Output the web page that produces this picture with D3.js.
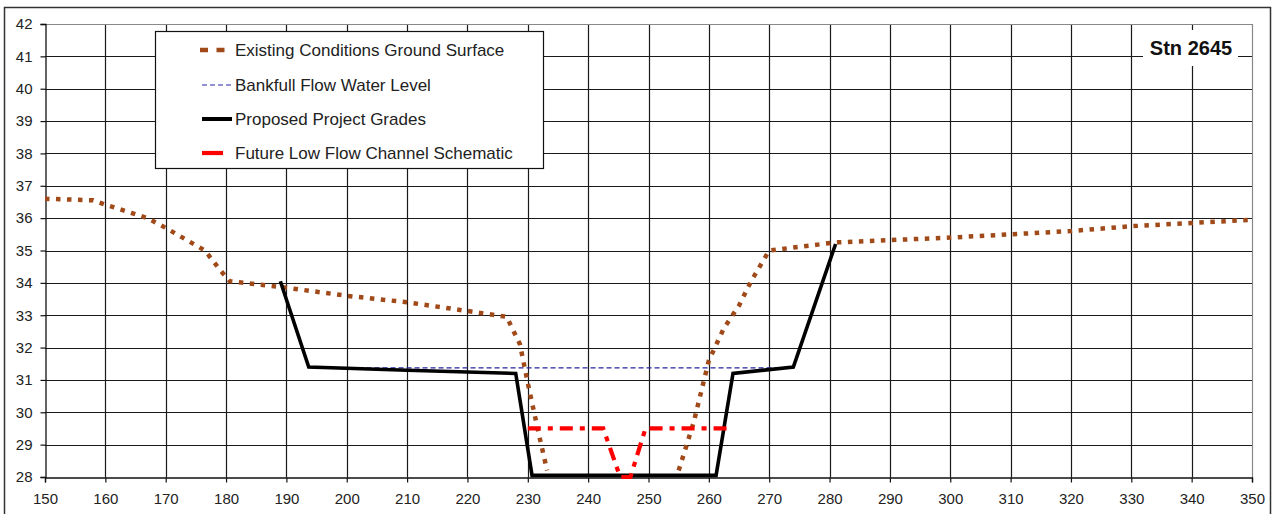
<!DOCTYPE html>
<html>
<head>
<meta charset="utf-8">
<script src="https://cdn.jsdelivr.net/npm/d3@7/dist/d3.min.js"></script>
<style>
  html, body { margin: 0; padding: 0; background: #fff; }
  svg { display: block; font-family: "Liberation Sans", Arial, sans-serif; }
</style>
</head>
<body>
<svg id="chart" width="1275" height="514"></svg>
<script>
// ---- Data ----
const xTickValues = [150,160,170,180,190,200,210,220,230,240,250,260,270,280,290,300,310,320,330,340,350];
const yTickValues = [28,29,30,31,32,33,34,35,36,37,38,39,40,41,42];

const existingX = [150,158,160,167,170,176.5,179,180.6,190,200,210,220,226.5,228.7,230,231.8,233.2,
                   null,
                   255,257.5,260,262.5,265,267,270,281,290,300,310,320,330,340,350];
const existingY = [36.6,36.55,36.42,36.0,35.7,35.0,34.4,34.05,33.85,33.6,33.4,33.13,32.95,32.1,30.9,29.35,28.2,
                   null,
                   28.2,29.7,31.6,32.6,33.3,34.05,35.0,35.25,35.32,35.4,35.5,35.6,35.75,35.85,35.95];

const bankfullX = [194,274];
const bankfullY = [31.37,31.37];

const proposedX = [189,193.7,210,228,230.7,261.2,264,274,281];
const proposedY = [34.05,31.4,31.3,31.2,28.05,28.05,31.2,31.4,35.2];

const lowFlowX = [230,242.5,245.3,247,249.5,263];
const lowFlowY = [29.5,29.5,28.0,28.0,29.5,29.5];

const legendLabels = ["Existing Conditions Ground Surface","Bankfull Flow Water Level","Proposed Project Grades","Future Low Flow Channel Schematic"];
const stationLabel = "Stn 2645";

// ---- Layout ----
const svg = d3.select("#chart");
const L = 45, R = 1252, T = 24, B = 477;

const x = d3.scaleLinear().domain([150, 350]).range([L, R]);
const y = d3.scaleLinear().domain([28, 42]).range([B, T]);

// outer border
svg.append("rect").attr("x", 4.5).attr("y", 7.5).attr("width", 1266).attr("height", 520)
  .attr("fill", "none").attr("stroke", "#333").attr("stroke-width", 1.5);

// grid
const grid = svg.append("g");
grid.selectAll("line.v").data(xTickValues.slice(1, -1)).enter().append("line")
  .attr("x1", d => Math.round(x(d)) + 0.5).attr("x2", d => Math.round(x(d)) + 0.5)
  .attr("y1", T).attr("y2", B).attr("stroke", "#1a1a1a").attr("stroke-width", 1.2);
grid.selectAll("line.h").data(yTickValues.slice(1, -1)).enter().append("line")
  .attr("y1", d => Math.round(y(d)) + 0.5).attr("y2", d => Math.round(y(d)) + 0.5)
  .attr("x1", L).attr("x2", R).attr("stroke", "#1a1a1a").attr("stroke-width", 1.2);

// plot border (top/right gray)
svg.append("line").attr("x1", L).attr("x2", R).attr("y1", T + 0.5).attr("y2", T + 0.5).attr("stroke", "#888").attr("stroke-width", 1.2);
svg.append("line").attr("x1", R + 0.5).attr("x2", R + 0.5).attr("y1", T).attr("y2", B).attr("stroke", "#888").attr("stroke-width", 1.2);

// axes
const xAxis = d3.axisBottom(x).tickValues(xTickValues).tickSize(5).tickPadding(7).tickFormat(d3.format("d"));
const yAxis = d3.axisLeft(y).tickValues(yTickValues).tickSize(5).tickPadding(8).tickFormat(d3.format("d"));

const gx = svg.append("g").attr("transform", `translate(0,${B + 0.5})`).call(xAxis);
const gy = svg.append("g").attr("transform", `translate(${L + 0.5},0)`).call(yAxis);
[gx, gy].forEach(g => {
  g.select(".domain").attr("stroke", "#111").attr("stroke-width", 1.3);
  g.selectAll(".tick line").attr("stroke", "#111").attr("stroke-width", 1.2);
  g.selectAll(".tick text").attr("fill", "#222").style("font-size", "15px")
    .style("font-family", "'Liberation Sans', Arial, sans-serif");
});
gx.selectAll(".tick text").attr("dy", "0.95em");

// clip
svg.append("clipPath").attr("id", "plotClip").append("rect")
  .attr("x", L).attr("y", T).attr("width", R - L).attr("height", B - T + 3);

const plot = svg.append("g").attr("clip-path", "url(#plotClip)");

function series(xs, ys) {
  return xs.map((v, i) => ({ x: v, y: ys[i] }));
}
const line = d3.line().defined(d => d.x !== null && d.y !== null).x(d => x(d.x)).y(d => y(d.y));

const BROWN = "#A04A1A", BLUE = "#2626A8", RED = "#FF0000";

plot.append("path").datum(series(existingX, existingY)).attr("d", line)
  .attr("fill", "none").attr("stroke", BROWN).attr("stroke-width", 4.5)
  .attr("stroke-dasharray", "4.5,6.5");

plot.append("path").datum(series(bankfullX, bankfullY)).attr("d", line)
  .attr("fill", "none").attr("stroke", BLUE).attr("stroke-width", 1.2)
  .attr("stroke-dasharray", "5,3");

plot.append("path").datum(series(proposedX, proposedY)).attr("d", line)
  .attr("fill", "none").attr("stroke", "#000").attr("stroke-width", 3.6)
  .attr("stroke-linejoin", "miter");

plot.append("path").datum(series(lowFlowX, lowFlowY)).attr("d", line)
  .attr("fill", "none").attr("stroke", RED).attr("stroke-width", 4.2)
  .attr("stroke-dasharray", "13,7,5,7");

// station label
svg.append("rect").attr("x", 1143).attr("y", 30).attr("width", 95).attr("height", 36).attr("fill", "#fff");
svg.append("text").attr("x", 1191).attr("y", 55).attr("text-anchor", "middle")
  .style("font-size", "20px").style("font-weight", "bold").attr("fill", "#111").text(stationLabel);

// legend
const lg = svg.append("g");
lg.append("rect").attr("x", 155.5).attr("y", 31.5).attr("width", 388).attr("height", 137)
  .attr("fill", "#fff").attr("stroke", "#111").attr("stroke-width", 1.2);
const rowY = [50, 85, 119, 153];
const styles = [
  { stroke: BROWN, w: 4.5, dash: "8,8.5", x1: 200, x2: 225 },
  { stroke: BLUE, w: 1.2, dash: "5,3", x1: 202, x2: 232 },
  { stroke: "#000", w: 4, dash: null, x1: 202, x2: 232 },
  { stroke: RED, w: 4.2, dash: null, x1: 202, x2: 223 }
];
legendLabels.forEach((lab, i) => {
  const s = styles[i];
  const l = lg.append("line").attr("x1", s.x1).attr("x2", s.x2).attr("y1", rowY[i]).attr("y2", rowY[i])
    .attr("stroke", s.stroke).attr("stroke-width", s.w);
  if (s.dash) l.attr("stroke-dasharray", s.dash);
  lg.append("text").attr("x", 235).attr("y", rowY[i]).attr("dy", "0.36em")
    .style("font-size", "17px").attr("fill", "#222").text(lab);
});
</script>
</body>
</html>
